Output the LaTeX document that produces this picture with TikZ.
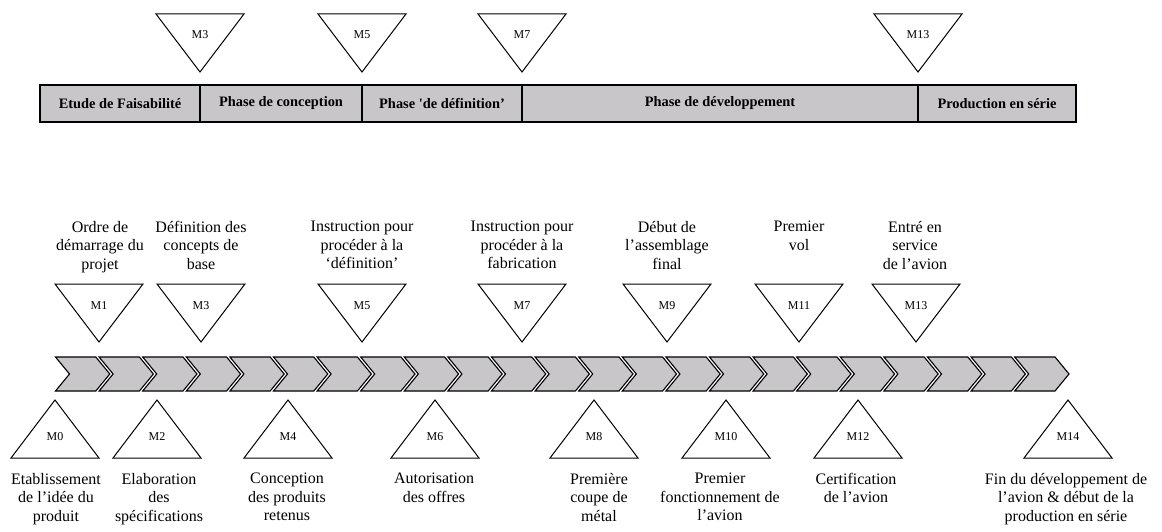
\documentclass[tikz,border=0pt]{standalone}
\usepackage{fontspec}
\setmainfont{Liberation Serif}
\usetikzlibrary{positioning}

\definecolor{phasegray}{RGB}{201,198,201}

\tikzset{
  phase/.style={draw, fill=phasegray, line width=1.2pt, minimum height=37pt, inner sep=0pt, outer sep=0pt, font=\fontsize{14.4}{16}\selectfont\bfseries},
  mtext/.style={font=\fontsize{12}{14}\selectfont, inner sep=0pt},
  event/.style={font=\fontsize{16}{18.4}\selectfont, align=center, inner sep=0pt, anchor=north},
  tri/.style={draw, fill=white, line width=1pt},
  chevron/.style={draw, fill=phasegray, line width=1.1pt},
}

\begin{document}
\begin{tikzpicture}[x=1pt, y=-1pt, node distance=0pt]
    \useasboundingbox (0,0) rectangle (1162,532);

    % phases
    \node[phase, minimum width=160pt, anchor=north west] (feas) at (40,85) {Etude de Faisabilité};
    \node[phase, minimum width=162pt] (concep) [right= of feas] {Phase de conception};
    \node[phase, minimum width=160pt] (defin) [right= of concep] {Phase \textquotesingle de définition’};
    \node[phase, minimum width=396pt] (devel) [right= of defin] {Phase de développement};
    \node[phase, minimum width=158pt] (serie) [right= of devel] {Production en série};

    % milestones over the phases
    \foreach \x/\n in {200/3, 362/5, 522/7, 918/13}{
        \draw[tri] (\x,72) -- ++(-44,-58) -- ++(88,0) -- cycle;
        \node[mtext] (top\n) at (\x,35) {M\n};
    }

    % chevrons
    \foreach \k in {0,...,22}{
        \draw[chevron] (55.5+43.6*\k,357) -- ++(40.3,0) -- ++(14,17) -- ++(-14,17) -- ++(-40.3,0) -- ++(14,-17) -- cycle;
    }

    % milestones above the chevrons
    \foreach \x/\n in {99/1, 201/3, 362/5, 522/7, 667/9, 799/11, 916/13}{
        \draw[tri] (\x,342) -- ++(-44,-58) -- ++(88,0) -- cycle;
        \node[mtext] (m\n) at (\x,305.5) {M\n};
    }

    % milestones below the chevrons
    \foreach \x/\n in {55/0, 157/2, 288/4, 435/6, 594/8, 726/10, 858/12, 1068/14}{
        \draw[tri] (\x,400) -- ++(-44,58) -- ++(88,0) -- cycle;
        \node[mtext] (m\n) at (\x,437) {M\n};
    }

    % texts above
    \node[event] (t1) at (100,221) {Ordre de\\démarrage du\\projet};
    \node[event] (t3) at (201,221) {Définition des\\concepts de\\base};
    \node[event] (t5) at (362,221) {Instruction pour\\procéder à la\\`définition'};
    \node[event] (t7) at (522,221) {Instruction pour\\procéder à la\\fabrication};
    \node[event] (t9) at (667,221) {Début de\\l'assemblage\\final};
    \node[event] (t11) at (799,221) {Premier\\vol};
    \node[event] (t13) at (915,221) {Entré en\\service\\de l'avion};

    % texts below
    \node[event] (t0) at (56,473) {Etablissement\\de l'idée du\\produit};
    \node[event] (t2) at (159,473) {Elaboration\\des\\spécifications};
    \node[event] (t4) at (287,473) {Conception\\des produits\\retenus};
    \node[event] (t6) at (434,473) {Autorisation\\des offres};
    \node[event] (t8) at (599,473) {Première\\coupe de\\métal};
    \node[event] (t10) at (720,473) {Premier\\fonctionnement de\\l'avion};
    \node[event] (t12) at (856,473) {Certification\\de l'avion};
    \node[event] (t14) at (1066,473) {Fin du développement de\\l'avion \& début de la\\production en série};
\end{tikzpicture}
\end{document}
